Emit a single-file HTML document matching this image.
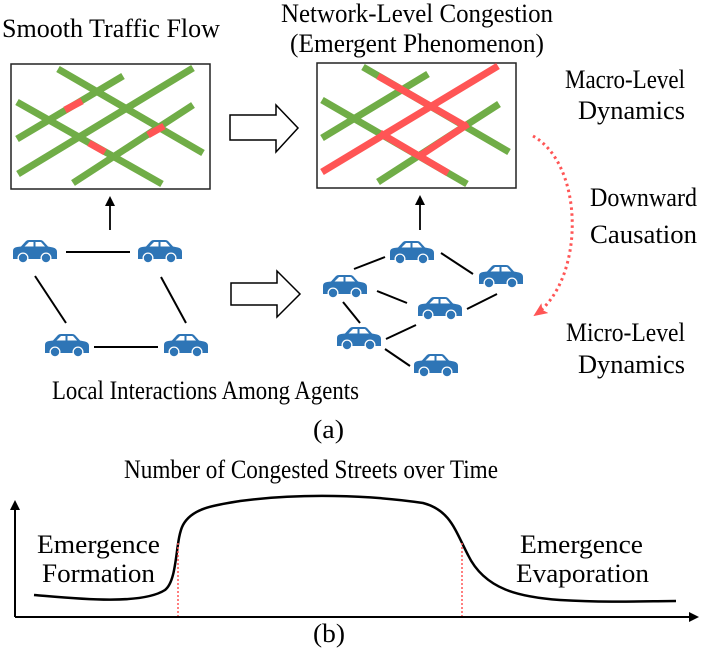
<!DOCTYPE html>
<html><head><meta charset="utf-8"><style>
html,body{margin:0;padding:0;background:#fff;}
svg{display:block;}
</style></head><body>
<svg width="706" height="652" viewBox="0 0 706 652" xmlns="http://www.w3.org/2000/svg">
<defs>
<g id="car">
<path d="M0,19 L0,11 Q0,7.5 4,7 L8,6.5 L13,1 Q14,0 16,0 L27,0 Q29,0 30,1 L35,6.5 L40,7.5 Q44,8.5 44,12 L44,19 Z" fill="#2e75b6"/>
<path d="M11.5,6.5 L16,2 L20.5,2 L20.5,6.5 Z M22.5,2 L28,2 L32,6.5 L22.5,6.5 Z" fill="#fff"/>
<circle cx="10" cy="18" r="5.5" fill="#fff"/><circle cx="10" cy="18" r="4.2" fill="#2e75b6"/>
<circle cx="33" cy="18" r="5.5" fill="#fff"/><circle cx="33" cy="18" r="4.2" fill="#2e75b6"/>
</g>
<marker id="ah" markerWidth="10" markerHeight="10" refX="8" refY="5" orient="auto" markerUnits="userSpaceOnUse"><path d="M0,0 L10,5 L0,10 Z" fill="#000"/></marker>
<marker id="rah" markerWidth="14" markerHeight="12" refX="12" refY="6" orient="auto" markerUnits="userSpaceOnUse"><path d="M0,0 L14,6 L0,12 L3,6 Z" fill="#f55"/></marker>
</defs>

<g font-family="Liberation Serif, serif" font-size="26" fill="#000" lengthAdjust="spacingAndGlyphs">
<text x="2" y="37" textLength="218" lengthAdjust="spacingAndGlyphs">Smooth Traffic Flow</text>
<text x="281" y="22" textLength="272" lengthAdjust="spacingAndGlyphs">Network-Level Congestion</text>
<text x="290" y="52" textLength="254" lengthAdjust="spacingAndGlyphs">(Emergent Phenomenon)</text>
<text x="565" y="88" textLength="120" lengthAdjust="spacingAndGlyphs">Macro-Level</text>
<text x="578" y="119" textLength="107" lengthAdjust="spacingAndGlyphs">Dynamics</text>
<text x="590" y="206" textLength="107" lengthAdjust="spacingAndGlyphs">Downward</text>
<text x="590" y="243" textLength="107" lengthAdjust="spacingAndGlyphs">Causation</text>
<text x="566" y="341" textLength="119" lengthAdjust="spacingAndGlyphs">Micro-Level</text>
<text x="578" y="373" textLength="107" lengthAdjust="spacingAndGlyphs">Dynamics</text>
<text x="52" y="399" textLength="307" lengthAdjust="spacingAndGlyphs">Local Interactions Among Agents</text>
<text x="313" y="438" textLength="31" lengthAdjust="spacingAndGlyphs">(a)</text>
<text x="124" y="478" textLength="374" lengthAdjust="spacingAndGlyphs">Number of Congested Streets over Time</text>
<text x="37" y="553" textLength="123" lengthAdjust="spacingAndGlyphs">Emergence</text>
<text x="42" y="582" textLength="113" lengthAdjust="spacingAndGlyphs">Formation</text>
<text x="520" y="553" textLength="123" lengthAdjust="spacingAndGlyphs">Emergence</text>
<text x="516" y="582" textLength="133" lengthAdjust="spacingAndGlyphs">Evaporation</text>
<text x="313" y="642" textLength="32" lengthAdjust="spacingAndGlyphs">(b)</text>
</g>

<!-- box1 -->
<rect x="11" y="64" width="199" height="125" fill="#fff" stroke="#222" stroke-width="1.5"/>
<g stroke-width="7" stroke-linecap="butt">
<line x1="58" y1="69" x2="203" y2="153" stroke="#70ad47"/>
<line x1="17" y1="139" x2="123" y2="76" stroke="#70ad47"/>
<line x1="17" y1="102" x2="162" y2="184" stroke="#70ad47"/>
<line x1="18" y1="174" x2="193" y2="68" stroke="#70ad47"/>
<line x1="73" y1="183" x2="193" y2="105" stroke="#70ad47"/>
<line x1="65" y1="110" x2="82" y2="101" stroke="#f55"/>
<line x1="89" y1="143" x2="105" y2="152" stroke="#f55"/>
<line x1="148" y1="135" x2="164" y2="126" stroke="#f55"/>
</g>
<!-- box2 -->
<rect x="317" y="63" width="199" height="125" fill="#fff" stroke="#222" stroke-width="1.5"/>
<g stroke-width="7" stroke-linecap="butt">
<line x1="363" y1="67" x2="509" y2="152" stroke="#70ad47"/>
<line x1="322" y1="138" x2="428" y2="74" stroke="#70ad47"/>
<line x1="322" y1="100" x2="467" y2="184" stroke="#70ad47"/>
<line x1="378" y1="182" x2="499" y2="104" stroke="#70ad47"/>
<line x1="378" y1="76" x2="467" y2="127" stroke="#f55"/>
<line x1="380" y1="133" x2="448" y2="173" stroke="#f55"/>
<line x1="418" y1="157" x2="468" y2="124" stroke="#f55"/>
<line x1="322" y1="172" x2="498" y2="66" stroke="#f55"/>
</g>

<!-- hollow arrows -->
<path d="M230,115 L276,115 L276,105 L298,128 L276,152 L276,140 L230,140 Z" fill="#fff" stroke="#000" stroke-width="1.5"/>
<path d="M231,283 L277,283 L277,271 L300,294 L277,317 L277,305 L231,305 Z" fill="#fff" stroke="#000" stroke-width="1.5"/>

<!-- up arrows -->
<line x1="110" y1="230" x2="110" y2="198" stroke="#000" stroke-width="1.8" marker-end="url(#ah)"/>
<line x1="420" y1="230" x2="420" y2="197" stroke="#000" stroke-width="1.8" marker-end="url(#ah)"/>

<!-- network lines -->
<g stroke="#000" stroke-width="2">
<line x1="66" y1="252" x2="130" y2="252"/>
<line x1="35" y1="276" x2="66" y2="323"/>
<line x1="161" y1="277" x2="186" y2="323"/>
<line x1="94" y1="347" x2="158" y2="347"/>
<line x1="354" y1="269" x2="385" y2="257"/>
<line x1="441" y1="253" x2="473" y2="274"/>
<line x1="377" y1="291" x2="407" y2="303"/>
<line x1="467" y1="309" x2="497" y2="294"/>
<line x1="343" y1="302" x2="360" y2="323"/>
<line x1="386" y1="339" x2="416" y2="325"/>
<line x1="385" y1="349" x2="410" y2="366"/>
</g>
<!-- cars -->
<use href="#car" x="13" y="240"/>
<use href="#car" x="138" y="240"/>
<use href="#car" x="45" y="334"/>
<use href="#car" x="164" y="334"/>
<use href="#car" x="390" y="241"/>
<use href="#car" x="479" y="265"/>
<use href="#car" x="323" y="275"/>
<use href="#car" x="418" y="297"/>
<use href="#car" x="337" y="327"/>
<use href="#car" x="414" y="354"/>

<!-- dotted red arc -->
<path d="M533,136 C585,165 585,280 535,315" fill="none" stroke="#f55" stroke-width="3" stroke-dasharray="2.5,3.5" marker-end="url(#rah)"/>

<!-- chart -->
<line x1="15" y1="617" x2="15" y2="502" stroke="#000" stroke-width="2" marker-end="url(#ah)"/>
<line x1="15" y1="617" x2="697" y2="617" stroke="#000" stroke-width="2" marker-end="url(#ah)"/>
<path d="M34,595 C70,598 140,606 165,590 C178,580 175,540 183,525 C192,508 215,505 240,501 C300,493 370,495 423,503 C450,510 455,530 468,555 C485,590 520,597 560,600 C610,603 650,601 676,601" fill="none" stroke="#000" stroke-width="2.5"/>
<line x1="178" y1="543" x2="178" y2="616" stroke="#f55" stroke-width="1.5" stroke-dasharray="2,2"/>
<line x1="462" y1="543" x2="462" y2="616" stroke="#f55" stroke-width="1.5" stroke-dasharray="2,2"/>
</svg>
</body></html>
